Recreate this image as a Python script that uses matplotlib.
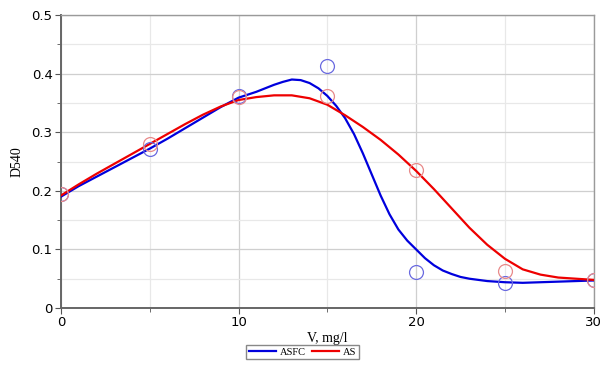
import matplotlib.pyplot as plt
from matplotlib.ticker import MultipleLocator
from matplotlib.lines import Line2D

# measured points (hollow circles)
conc = [0, 5, 10, 15, 20, 25, 30]
asfc_pts = [0.195, 0.271, 0.362, 0.413, 0.061, 0.043, 0.047]
as_pts = [0.195, 0.280, 0.360, 0.362, 0.236, 0.064, 0.047]

# fitted curves (finer steps where the curve bends)
asfc_x = [0, 1, 2, 3, 4, 5, 6, 7, 8, 9, 10,
          10.5, 11, 11.5, 12, 12.5, 13, 13.5, 14, 14.5, 15, 15.5, 16, 16.5,
          17, 17.5, 18, 18.5, 19, 19.5, 20, 20.5, 21, 21.5, 22, 22.5, 23,
          23.5, 24, 25, 26, 27, 28, 29, 30]
asfc_curve = [0.190, 0.208, 0.224, 0.240, 0.256, 0.272, 0.289, 0.307, 0.325, 0.343,
              0.359, 0.364, 0.369, 0.375, 0.381, 0.386, 0.390, 0.389, 0.384, 0.375,
              0.362, 0.345, 0.324, 0.297, 0.264, 0.228, 0.192, 0.160, 0.134, 0.115,
              0.100, 0.085, 0.073, 0.064, 0.058, 0.053, 0.050, 0.048, 0.046, 0.044,
              0.043, 0.044, 0.045, 0.046, 0.047]
as_x = list(range(0, 31))
as_curve = [0.192, 0.211, 0.229, 0.246, 0.263, 0.280, 0.297, 0.314, 0.330, 0.344,
            0.355, 0.360, 0.363, 0.363, 0.358, 0.347, 0.329, 0.309, 0.287, 0.262,
            0.234, 0.203, 0.170, 0.137, 0.108, 0.084, 0.066, 0.057, 0.052, 0.050,
            0.048]

fig = plt.figure(figsize=(6.09, 3.77), dpi=100)
ax = fig.add_axes([0.100, 0.183, 0.875, 0.777])

ax.plot(asfc_x, asfc_curve, color="#0000dd", lw=1.6, zorder=3)
ax.plot(as_x, as_curve, color="#ee0000", lw=1.6, zorder=3)
ax.plot(conc, asfc_pts, "o", ms=10, mfc="none", mec="#6a6ae0", mew=0.9, zorder=4)
ax.plot(conc, as_pts, "o", ms=10, mfc="none", mec="#e88a8a", mew=0.9, zorder=4)

ax.set_xlim(0, 30)
ax.set_ylim(0, 0.5)
ax.xaxis.set_major_locator(MultipleLocator(10))
ax.xaxis.set_minor_locator(MultipleLocator(5))
ax.yaxis.set_minor_locator(MultipleLocator(0.05))
ax.set_yticks([0, 0.1, 0.2, 0.3, 0.4, 0.5])
ax.set_yticklabels(["0", "0.1", "0.2", "0.3", "0.4", "0.5"])
ax.grid(which="major", color="#cfcfcf", lw=0.9)
ax.grid(which="minor", color="#e8e8e8", lw=0.9)
ax.set_axisbelow(True)
ax.tick_params(which="both", direction="out", color="#555555", labelsize=9.5,
               pad=2)
ax.tick_params(which="major", length=4)
ax.tick_params(which="minor", length=3)
for side in ["left", "bottom"]:
    ax.spines[side].set_color("#666666")
    ax.spines[side].set_linewidth(1.4)
for side in ["top", "right"]:
    ax.spines[side].set_color("#9a9a9a")
    ax.spines[side].set_linewidth(1.0)

ax.set_xlabel("V, mg/l", family="Liberation Serif", fontsize=10, labelpad=2)
ax.set_ylabel("D540", family="Liberation Serif", fontsize=10, labelpad=6)

handles = [Line2D([], [], color="#0000dd", lw=1.6),
           Line2D([], [], color="#ee0000", lw=1.6)]
fig.legend(handles, ["ASFC", "AS"], loc="center", bbox_to_anchor=(0.497, 0.066),
           ncol=2, fancybox=False, edgecolor="#888888", framealpha=1,
           prop={"family": "Liberation Serif", "size": 7.5},
           handlelength=2.6, handletextpad=0.4, columnspacing=0.6,
           borderpad=0.25, borderaxespad=0)

fig.savefig("out.png", dpi=100)
